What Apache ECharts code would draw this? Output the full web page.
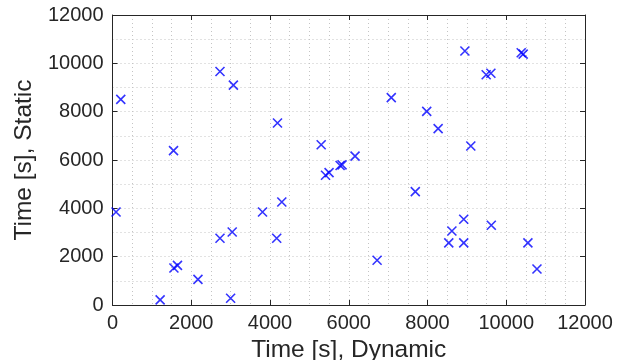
<!DOCTYPE html>
<html>
<head>
<meta charset="utf-8">
<script src="https://cdn.jsdelivr.net/npm/echarts@6/dist/echarts.min.js"></script>
<style>
  html, body { margin: 0; padding: 0; background: #fff; }
  #chart { width: 634px; height: 360px; }
</style>
</head>
<body>
<div id="chart"></div>
<script>
// Run times of each case: dynamic scheduling (x) vs static scheduling (y), seconds
const dynamicTimes = [
  90, 210, 1550, 2730, 3070, 4190, 5300, 6160, 7080, 7980,
  8270, 8950, 9100, 9490, 9610, 10380, 10430, 1210, 1560, 1650,
  2170, 2730, 3040, 3000, 3810, 4170, 4300, 5410, 5500, 5780,
  5830, 7690, 6720, 8540, 8620, 8920, 8920, 9620, 10550, 10780
];
const staticTimes = [
  3850, 8510, 6390, 9660, 9100, 7530, 6630, 6160, 8580, 8010,
  7300, 10510, 6580, 9530, 9590, 10440, 10380, 210, 1530, 1640,
  1060, 2760, 3020, 280, 3850, 2760, 4260, 5370, 5480, 5770,
  5800, 4690, 1850, 2570, 3060, 3550, 2570, 3300, 2570, 1490
];
const axisMin = 0;
const axisMax = 12000;
const axisStep = 2000;
const xTitle = 'Time [s], Dynamic';
const yTitle = 'Time [s], Static';

const points = dynamicTimes.map((x, i) => [x, staticTimes[i]]);

const ink = '#262626';
const gridDots = { color: '#c4c4c4', type: [1, 3], width: 1 };
const font = 'Liberation Sans, Arial, Helvetica, sans-serif';

function mainAxis(position, name, minorSplits, labelMargin, nameGap) {
  return {
    type: 'value', position, min: axisMin, max: axisMax, interval: axisStep,
    name, nameLocation: 'middle', nameGap,
    nameTextStyle: { color: ink, fontSize: 24.5, fontFamily: font },
    axisLine: { show: true, onZero: false, lineStyle: { color: ink, width: 1 } },
    axisTick: { show: true, inside: true, length: 5, lineStyle: { color: ink } },
    axisLabel: {
      color: ink, fontSize: 20, fontFamily: font, margin: labelMargin,
      formatter: v => String(v)
    },
    splitLine: { show: true, lineStyle: gridDots },
    minorTick: { show: false, splitNumber: minorSplits },
    minorSplitLine: { show: true, lineStyle: gridDots }
  };
}
// Box edges on the top and right, carrying the same major ticks
function mirrorAxis(position) {
  return {
    type: 'value', position, min: axisMin, max: axisMax, interval: axisStep,
    axisLine: { show: true, onZero: false, lineStyle: { color: ink, width: 1 } },
    axisTick: { show: true, inside: true, length: 5, lineStyle: { color: ink } },
    axisLabel: { show: false },
    splitLine: { show: false }
  };
}

const chart = echarts.init(document.getElementById('chart'), null, { renderer: 'canvas' });
chart.setOption({
  backgroundColor: '#ffffff',
  animation: false,
  grid: {
    left: 112.5, right: 49, top: 15, bottom: 55,
    containLabel: false, outerBoundsMode: 'none'
  },
  xAxis: [mainAxis('bottom', xTitle, 4, 8, 22), mirrorAxis('top')],
  yAxis: [mainAxis('left', yTitle, 2, 9, 71), mirrorAxis('right')],
  series: [{
    type: 'scatter',
    xAxisIndex: 0, yAxisIndex: 0,
    data: points,
    symbol: 'path://M0,0L1,1M1,0L0,1',
    symbolSize: 9,
    symbolKeepAspect: true,
    itemStyle: { color: 'transparent', borderColor: '#0000ff', borderWidth: 1.6 }
  }, {
    type: 'scatter',
    xAxisIndex: 1, yAxisIndex: 1,
    data: [],
    silent: true
  }]
});
</script>
</body>
</html>
